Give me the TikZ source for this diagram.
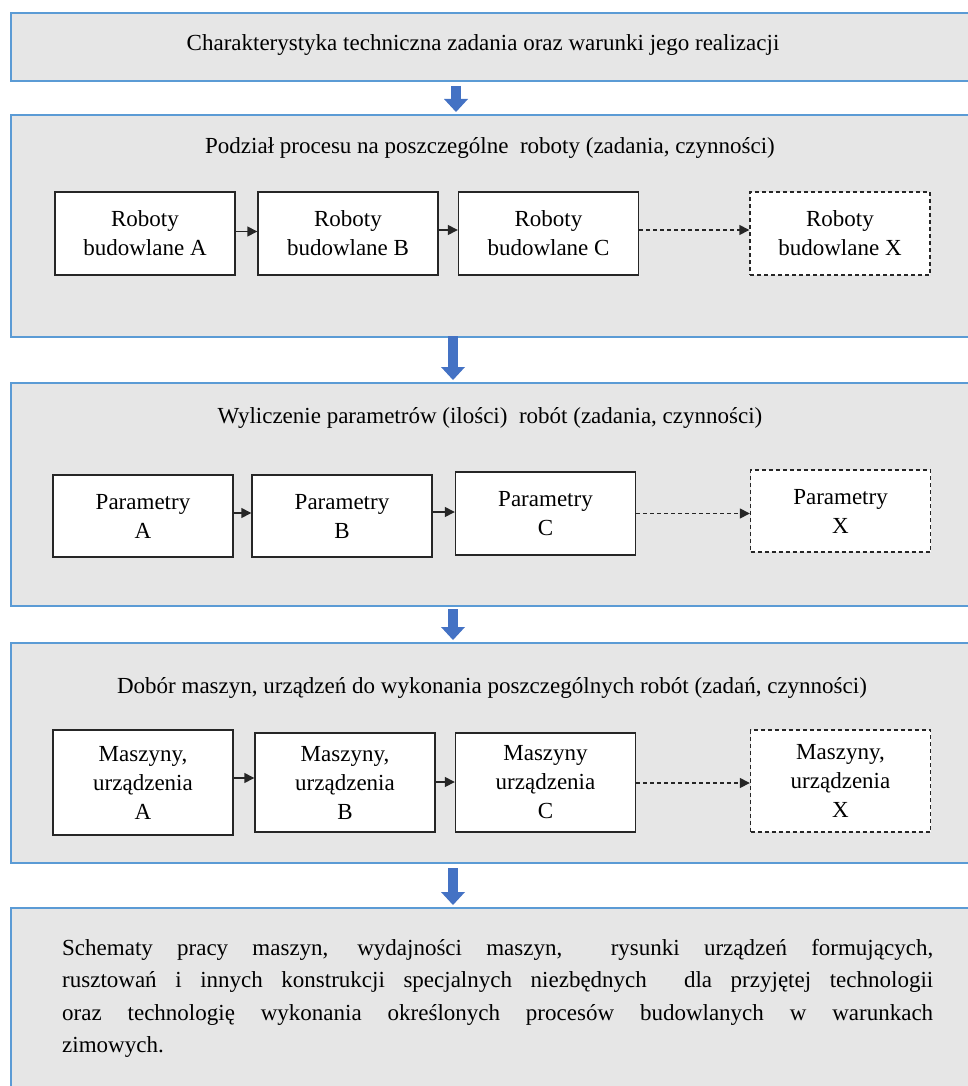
\documentclass[tikz,border=0pt]{standalone}
\usepackage{fontspec}
\setmainfont{Liberation Serif}
\usetikzlibrary{arrows.meta}
\definecolor{panelfill}{HTML}{E6E6E6}
\definecolor{panelline}{HTML}{5B9BD5}
\definecolor{barrow}{HTML}{4472C4}
\newcommand\boxfont{\fontsize{23}{29}\selectfont}
\newcommand\bodyfont{\fontsize{23}{32.5}\selectfont}
\begin{document}
\begin{tikzpicture}[x=1pt,y=-1pt,
  panel/.style={draw=panelline, fill=panelfill, line width=2pt, rectangle, inner sep=0pt, minimum width=970pt, anchor=north west},
  stepbox/.style={draw=black!85, fill=white, line width=1.4pt, rectangle, minimum width=180pt, align=center, inner sep=0pt, font=\boxfont},
  dashbox/.style={stepbox, dash pattern=on 4pt off 3pt},
  ttl/.style={font=\boxfont, inner sep=0pt},
  link/.style={draw=black!85, line width=1.4pt, -{Triangle[width=10pt,length=10pt]}},
  dlink/.style={link, dash pattern=on 4pt off 3pt},
  blockarrow/.style={draw=barrow, line width=10pt, -{Triangle[width=24pt,length=13pt,line width=0pt]}}
]
\clip (0,0) rectangle (968,1086);
\fill[white] (0,0) rectangle (968,1086);

% panels
\node[panel, minimum height=68pt] (P1) at (10,12) {};
\node[panel, minimum height=222pt] (P2) at (10,114) {};
\node[panel, minimum height=223pt] (P3) at (10,382) {};
\node[panel, minimum height=220pt] (P4) at (10,642) {};
\node[panel, minimum height=210pt] (P5) at (10,907) {};

% titles
\node[ttl] (T1) at (483,45) {Charakterystyka techniczna zadania oraz warunki jego realizacji};
\node[ttl] (T2) at (490,148) {Podział procesu na poszczególne\ \ roboty (zadania, czynności)};
\node[ttl] (T3) at (490,418) {Wyliczenie parametrów (ilości)\ \ robót (zadania, czynności)};
\node[ttl] (T4) at (492,688) {Dobór maszyn, urządzeń do wykonania poszczególnych robót (zadań, czynności)};

% row 1
\node[stepbox, minimum height=83pt] (A1) at (145,233.5) {Roboty\\budowlane A};
\node[stepbox, minimum height=83pt] (B1) at (348,233.5) {Roboty\\budowlane B};
\node[stepbox, minimum height=83pt] (C1) at (548.5,233.5) {Roboty\\budowlane C};
\node[dashbox, minimum height=83pt] (X1) at (840,233.5) {Roboty\\budowlane X};

% row 2
\node[stepbox, minimum height=82pt] (A2) at (143,516) {Parametry\\A};
\node[stepbox, minimum height=82pt] (B2) at (342,516) {Parametry\\B};
\node[stepbox, minimum height=83pt] (C2) at (545.5,513.5) {Parametry\\C};
\node[dashbox, minimum height=82pt] (X2) at (840.5,511) {Parametry\\X};

% row 3
\node[stepbox, minimum height=105pt] (A3) at (143,782.5) {Maszyny,\\urządzenia\\A};
\node[stepbox, minimum height=99pt] (B3) at (345,782.5) {Maszyny,\\urządzenia\\B};
\node[stepbox, minimum height=99pt] (C3) at (545.5,782.5) {Maszyny\\urządzenia\\C};
\node[dashbox, minimum height=102pt] (X3) at (840.5,781) {Maszyny,\\urządzenia\\X};

% small connectors
\draw[link] ([yshift=2pt]A1.east) -- ([yshift=2pt]B1.west);
\draw[link] ([yshift=3.5pt]B1.east) -- ([yshift=3.5pt]C1.west);
\draw[dlink] ([yshift=3.5pt]C1.east) -- ([yshift=3.5pt]X1.west);
\draw[link] ([yshift=3pt]A2.east) -- ([yshift=3pt]B2.west);
\draw[link] ([yshift=4pt]B2.east) -- ([yshift=1.5pt]C2.west);
\draw[dlink] ([yshift=0pt]C2.east) -- ([yshift=-2.5pt]X2.west);
\draw[link] ([yshift=4.5pt]A3.east) -- ([yshift=4.5pt]B3.west);
\draw[link] ([yshift=0.5pt]B3.east) -- ([yshift=0.5pt]C3.west);
\draw[dlink] ([yshift=-0.5pt]C3.east) -- ([yshift=-2pt]X3.west);

% block arrows
\draw[blockarrow] ([xshift=-40pt,yshift=-4pt]P1.south) -- ([xshift=-40pt,yshift=2pt]P2.north);
\draw[blockarrow] ([xshift=-43pt,yshift=2pt]P2.south) -- ([xshift=-43pt,yshift=2pt]P3.north);
\draw[blockarrow] ([xshift=-43pt,yshift=-2pt]P3.south) -- ([xshift=-43pt,yshift=2pt]P4.north);
\draw[blockarrow] ([xshift=-43pt,yshift=-4pt]P4.south) -- ([xshift=-43pt,yshift=2pt]P5.north);

% bottom text
\node[anchor=base west, inner sep=0pt, text width=871pt, align=justify, font=\bodyfont] (T5) at (62,955)
{Schematy pracy maszyn, wydajności maszyn,\ \ rysunki urządzeń formujących,\linebreak
rusztowań i innych konstrukcji specjalnych niezbędnych\ \ dla przyjętej technologii\linebreak
oraz technologię wykonania określonych procesów budowlanych w warunkach\linebreak
zimowych.};
\end{tikzpicture}
\end{document}
